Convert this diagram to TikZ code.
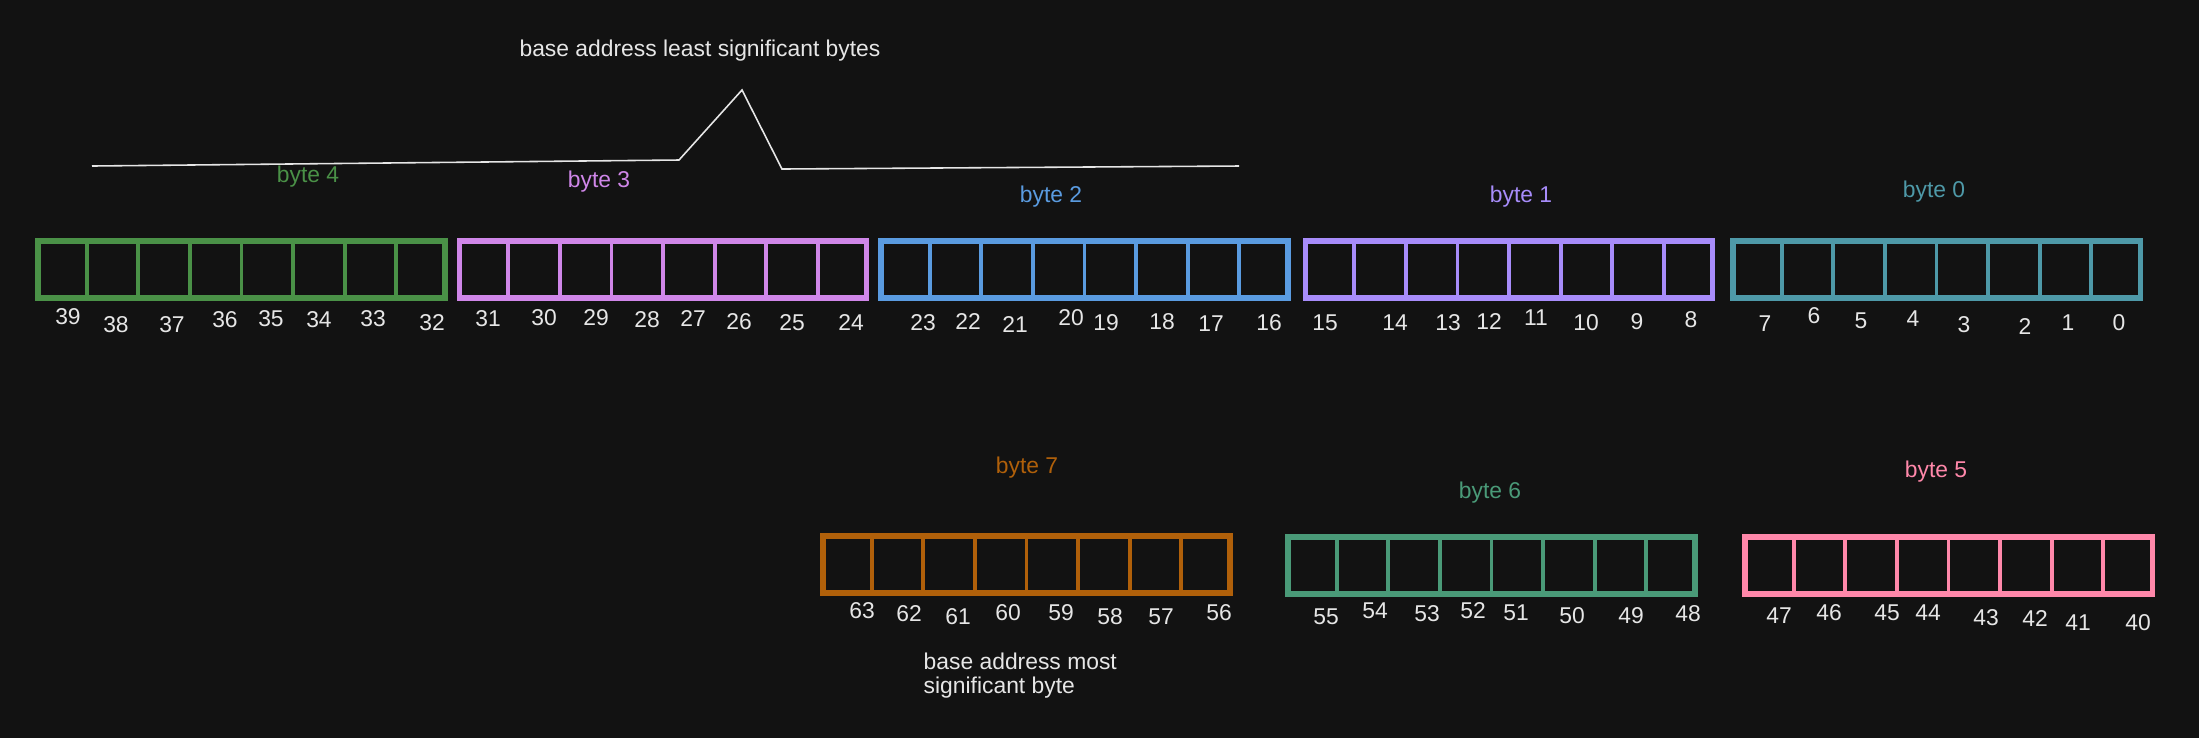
\documentclass[tikz,border=0pt]{standalone}
\usepackage{fontspec}
\setmainfont{Liberation Sans}
\usetikzlibrary{calc}
\definecolor{bgcol}{HTML}{121212}
\definecolor{inkcol}{HTML}{E6E6E6}
\definecolor{col0}{HTML}{4E99A8}
\definecolor{col1}{HTML}{A78CFA}
\definecolor{col2}{HTML}{5A9BE0}
\definecolor{col3}{HTML}{CF86E8}
\definecolor{col4}{HTML}{4A9147}
\definecolor{col5}{HTML}{FF88AA}
\definecolor{col6}{HTML}{4A9A78}
\definecolor{col7}{HTML}{B0600A}
\tikzstyle{bytebox}=[rectangle,line width=1.5pt,minimum width=4.07cm,
			minimum height=0.57cm,inner sep=0pt]
\tikzstyle{divider}=[line width=1.1pt]
\tikzstyle{bitnum}=[text=inkcol,inner sep=0pt]
\tikzstyle{bytelabel}=[inner sep=0pt]
\tikzstyle{pointer}=[draw=inkcol,line width=0.45pt]

\begin{document}
\begin{tikzpicture}[x=0.01cm,y=-0.01cm,
                    font=\fontsize{6.5}{7}\selectfont]
	\fill[bgcol] (0,0) rectangle (2199,738);

	% the eight bytes
	\foreach \n/\x/\y/\lx/\ly in {4/241.5/269.5/308/177,3/663/269.5/599/182,
		2/1084.5/269.5/1051/197,1/1509/269.5/1521/197,0/1936.5/269.5/1934/192,
		7/1026.5/564.5/1027/468,6/1491.5/565.5/1490/493,5/1948.5/565.5/1936/472}{
		\node[bytebox,draw=col\n] (byte\n) at (\x,\y) {};
		\node[bytelabel,text=col\n] (label\n) at (\lx,\ly) {byte \n};
		\foreach \i in {1,...,7}
			\draw[divider,col\n] ($(byte\n.north west)!\i/8!(byte\n.north east)$)
				-- ($(byte\n.south west)!\i/8!(byte\n.south east)$);
	}

	% bit numbers
	\foreach \b/\x/\y in {39/68/317,38/116/325,37/172/325,36/225/320,35/271/319,
		34/319/320,33/373/319,32/432/323,31/488/319,30/544/318,29/596/318,
		28/647/320,27/693/319,26/739/322,25/792/323,24/851/323,
		23/923/323,22/968/322,21/1015/325,20/1071/318,19/1106/323,18/1162/322,
		17/1211/324,16/1269/323,15/1325/323,14/1395/323,13/1448/323,12/1489/322,
		11/1536/318,10/1586/323,9/1637/322,8/1691/320,
		7/1765/324,6/1814/316,5/1861/321,4/1913/319,3/1964/325,2/2025/327,
		1/2068/323,0/2119/323,
		63/862/611,62/909/614,61/958/617,60/1008/613,59/1061/613,58/1110/617,
		57/1161/617,56/1219/613,55/1326/617,54/1375/611,53/1427/614,52/1473/611,
		51/1516/613,50/1572/616,49/1631/616,48/1688/614,
		47/1779/616,46/1829/613,45/1887/613,44/1928/613,43/1986/618,42/2035/619,
		41/2078/623,40/2138/623}
		\node[bitnum] (bit\b) at (\x,\y) {\b};

	% notes
	\node[text=inkcol] (lsbnote) at (700,51) {base address least significant bytes};
	\node[text=inkcol,anchor=north west,align=left,inner sep=0pt] (msbnote)
		at (923,652) {base address most\\significant byte};

	\coordinate (lsbL) at (92,166);
	\coordinate (lsbA) at (679,160);
	\coordinate (lsbP) at (742,90);
	\coordinate (lsbB) at (782,169);
	\coordinate (lsbR) at (1239,166);
	\draw[pointer] (lsbL) -- (lsbA) -- (lsbP) -- (lsbB) -- (lsbR);
\end{tikzpicture}
\end{document}
